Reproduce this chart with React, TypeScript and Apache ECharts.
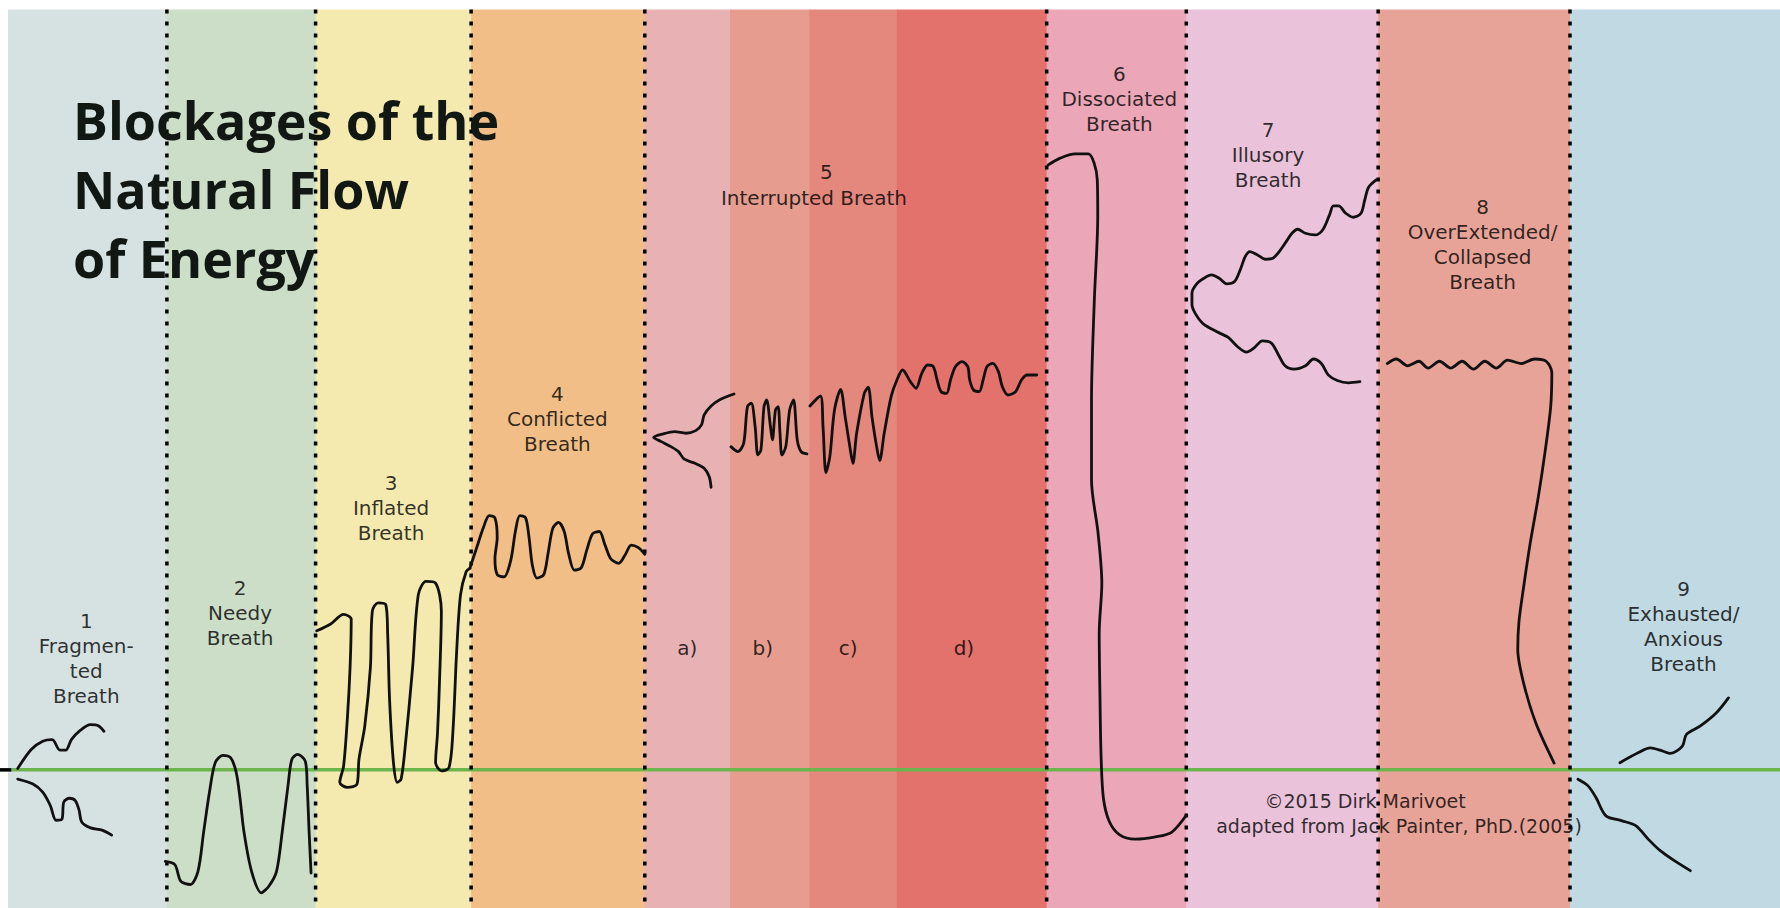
import React, { useEffect, useRef } from "react";
import * as echarts from "echarts";

// Units: x and y are measured on the reference picture (1 unit = 1.1352 px),
// y is height above the green baseline.
const X_MIN = 0;
const X_MAX = 1568;
const Y_MIN = -121.7;
const Y_MAX = 678.3;
const BAND_TOP = 670;
const BAND_BOTTOM = -122;

const BAND_EDGES = [7, 147, 278, 415, 568, 643, 713, 790, 922, 1045, 1214, 1383, 1568];
const BAND_COLORS = [
  "#D6E2E1", "#CCDEC8", "#F4EAB0", "#F1BE88", "#E8B2B5", "#E69D8F",
  "#E4877D", "#E3726C", "#EBA7B7", "#EAC2DA", "#E8A398", "#C1D9E3",
];
const SEPARATORS = [147, 278, 415, 568, 922, 1045, 1214, 1383];

const TITLE = "Blockages of the\nNatural Flow\nof Energy";

const FRAGMENTED_UP = [
  [15.6, 1.2], [27.5, 18], [37.6, 25.3], [46, 26.7], [52.8, 17.4], [57.9, 17.4],
  [62.9, 26.7], [69.7, 34], [79.8, 39.8], [86.6, 38.9], [91.6, 34],
];
const FRAGMENTED_DOWN = [
  [15.6, -8.1], [29.1, -12.5], [37.6, -19.7], [44.3, -31.4], [49.4, -44.4],
  [54.5, -43.5], [56.2, -28.4], [61.2, -25], [66.3, -27], [69.7, -35.7],
  [72, -45.9], [79.8, -51.1], [89.9, -53.1], [98.4, -57.5],
];
const NEEDY = [
  [145.6, -80.7], [154.1, -83.6], [159.2, -98.1], [167.6, -101], [174.4, -89.4],
  [179.4, -54.6], [184.5, -19.7], [189.6, 6.4], [196.3, 12.8], [203.1, 10.7],
  [208.1, -2.3], [211.5, -25.5], [214.9, -54.6], [221.6, -89.4], [230.1, -108.3],
  [236.8, -102.5], [243.6, -89.4], [248.6, -54.6], [253.7, -13.9], [257.1, 9.3],
  [262.2, 13.6], [268.9, 7.8], [270.6, -13.9], [272.3, -54.6], [274, -90.9],
];
const INFLATED = [
  [279, 122.5], [290.9, 128.3], [302.7, 137], [309.4, 132.7], [308.4, 90.6],
  [306.1, 47], [302.7, 3.5], [299.3, -11], [306.1, -15.4], [314.5, -12.5],
  [316.2, 9.3], [321.3, 38.3], [326.3, 90.6], [328, 139.9], [333.1, 147.2],
  [339.8, 145.7], [341.5, 119.6], [343.2, 61.5], [346.6, 6.4], [350, -11],
  [353.3, -8.1], [356.7, 18], [363.5, 90.6], [368.5, 154.4], [375.3, 166],
  [383.7, 164.6], [388.8, 139.9], [387.1, 76], [385.4, 32.5], [383.7, 6.4],
  [388.8, -0.9], [395.5, 2], [398.9, 32.5], [402.3, 105], [405.7, 154.4],
  [410.7, 174.8], [414.1, 177.7],
];
const CONFLICTED = [
  [414, 178], [420, 196], [426, 214], [431, 224], [436, 222], [438, 205],
  [436, 186], [438, 172], [444, 170], [450, 185], [454, 210], [458, 224],
  [463, 222], [466, 205], [469, 180], [473, 169], [479, 172], [483, 192],
  [487, 213], [492, 218], [497, 210], [501, 190], [506, 176], [512, 178],
  [517, 194], [522, 208], [528, 210], [533, 198], [538, 186], [545, 182],
  [551, 190], [556, 198], [562, 196], [568, 190],
];
const INTERRUPTED_A = [
  [646.6, 331.2], [634.8, 326.5], [626.4, 320.6], [620.3, 312.7], [617.9, 303.9],
  [612.9, 298.9], [604.4, 296.6], [594.3, 298], [584.2, 296], [575.8, 293],
  [582.5, 289.2], [591, 284.8], [597.7, 280.4], [602.8, 273.7], [612.2, 270.1],
  [620.3, 265.7], [624.7, 258.4], [626.4, 249],
];
const INTERRUPTED_B = [
  [643.9, 284.8], [650, 280.4], [655.1, 287.8], [658.4, 320], [661.8, 323],
  [665.2, 302.4], [667.6, 277.5], [670.3, 281.9], [673, 320], [675.3, 325.9],
  [678.7, 302.4], [680.4, 290.7], [683.1, 317.1], [685.4, 320], [687.1, 296.6],
  [688.8, 277.5], [692.2, 284.8], [695.6, 317.1], [699, 325.9], [702.3, 290.7],
  [705.7, 280.4], [710.8, 278.4],
];
const INTERRUPTED_CD = [
  [713.5, 320.6], [722.6, 329.4], [725, 302.4], [727.6, 261.9], [731, 276],
  [735.1, 317.1], [740.5, 335.3], [744.5, 311.2], [748.6, 284.8], [751.3, 270.1],
  [754.6, 296.6], [761.4, 331.8], [764.8, 337.1], [768.1, 311.2], [772.2, 284.8],
  [774.9, 272.5], [778.9, 296.6], [785, 328.9], [790.1, 343.5], [795.1, 352.3],
  [801.9, 342.1], [806.9, 336.2], [812, 349.4], [817.1, 356.7], [822.1, 355.3],
  [825.5, 343.5], [828.9, 333.3], [833.9, 331.8], [837.3, 343.5], [841.7, 355.3],
  [847.4, 359.7], [852.5, 355.3], [854.2, 343.5], [857.6, 334.7], [862.6, 333.3],
  [866, 343.5], [869.4, 355.3], [874.4, 358.2], [879.5, 350.9], [882.9, 337.7],
  [887.9, 330.3], [894.7, 333.3], [899.8, 343.5], [904.8, 347.9], [913.3, 347.9],
];
const DISSOCIATED = [
  [923.4, 533], [933.5, 538.8], [947, 542.7], [958.8, 542.7], [963.9, 534.4],
  [966.6, 519.8], [967, 487.5], [964, 414], [961.5, 325.9], [961.5, 255.5],
  [967.3, 208.5], [970.6, 164.4], [968.3, 120.4], [969, 61.7], [970, 10],
  [972, -25], [977, -45], [986, -57], [1000, -61], [1018, -59], [1032, -55],
  [1045, -40],
];
const ILLUSORY = [
  [1212.3, 519.8], [1205.6, 513.3], [1202.2, 502.1], [1198.9, 490.4], [1192.1, 486.9],
  [1185.4, 490.4], [1179.3, 496.9], [1174.6, 496.9], [1171.2, 489], [1165.1, 475.7],
  [1158.4, 471.3], [1149.9, 472.8], [1143.2, 476.3], [1138.1, 472.8], [1133, 465.4],
  [1128, 458.1], [1121.2, 450.8], [1114.5, 449.9], [1107.7, 453.7], [1101, 456.6],
  [1096.9, 452.2], [1092.5, 440.5], [1087.5, 430.2], [1080.7, 428.2], [1074, 433.1],
  [1067.2, 436.1], [1060.5, 433.1], [1054, 428], [1050, 420], [1050, 410],
  [1053, 402], [1060, 393], [1072, 386], [1082, 381], [1090, 373], [1098, 368],
  [1105, 372], [1112, 378], [1120, 376], [1126, 366], [1132, 356], [1140, 353],
  [1150, 356], [1157, 362], [1164, 358], [1170, 348], [1178, 343], [1188, 341],
  [1198, 342],
];
const COLLAPSED = [
  [1222, 358], [1230, 362], [1240, 356], [1250, 360], [1258, 354], [1268, 360],
  [1278, 354], [1288, 360], [1298, 353], [1308, 360], [1318, 354], [1328, 361],
  [1340, 358], [1352, 362], [1362, 360], [1367, 350], [1366, 320], [1361, 280],
  [1355, 240], [1348, 200], [1342, 160], [1338, 130], [1337, 106], [1342, 77],
  [1353, 41], [1369, 6],
];
const EXHAUSTED_UP = [
  [1427, 6.3], [1443, 15], [1453.7, 19.3], [1464.2, 16.7], [1471.4, 14.5],
  [1482, 21], [1485.6, 31.3], [1497.9, 38.7], [1512, 50.3], [1522.6, 63.4],
];
const EXHAUSTED_DOWN = [
  [1390, -8.3], [1398.9, -14.1], [1405.9, -24.4], [1414.7, -40.5], [1428.9, -44.9],
  [1441.2, -49.3], [1451.9, -61], [1462.5, -71.2], [1474.9, -80], [1489, -88.8],
];

const CURVES = [
  FRAGMENTED_UP, FRAGMENTED_DOWN, NEEDY, INFLATED, CONFLICTED, INTERRUPTED_A,
  INTERRUPTED_B, INTERRUPTED_CD, DISSOCIATED, ILLUSORY, COLLAPSED, EXHAUSTED_UP,
  EXHAUSTED_DOWN,
];

const LABEL_TEXTS = [
  "1\nFragmen-\nted\nBreath", "2\nNeedy\nBreath", "3\nInflated\nBreath",
  "4\nConflicted\nBreath", "5", "Interrupted Breath", "a)", "b)", "c)", "d)",
  "6\nDissociated\nBreath", "7\nIllusory\nBreath", "8\nOverExtended/\nCollapsed\nBreath",
  "9\nExhausted/\nAnxious\nBreath",
];
const LABEL_X = [76, 211.5, 344.5, 491, 728, 717, 605.5, 672, 747.2, 849.1, 986, 1117, 1306, 1483];
const LABEL_Y = [98, 138, 231, 309, 527, 504, 107.5, 107.5, 107.5, 107.5, 591, 542, 463, 126.5];

const CREDIT_TEXTS = ["©2015 Dirk Marivoet", "adapted from Jack Painter, PhD.(2005)"];
const CREDIT_X = [1202.5, 1232.4];
const CREDIT_Y = [-27.3, -49.3];

export default function App() {
  const ref = useRef<HTMLDivElement>(null);
  useEffect(() => {
    if (!ref.current) return;
    const chart = echarts.init(ref.current, undefined, { renderer: "svg" });
    const bandData = BAND_EDGES.slice(0, -1).map((e, i) => [e, BAND_EDGES[i + 1], i]);
    const series: any[] = [
      {
        type: "custom",
        silent: true,
        z: 0,
        encode: { x: [0, 1] },
        data: bandData,
        renderItem: (_p: any, api: any) => {
          const a = api.coord([api.value(0), BAND_TOP]);
          const b = api.coord([api.value(1), BAND_BOTTOM]);
          return {
            type: "rect",
            shape: { x: a[0], y: a[1], width: b[0] - a[0] + 0.6, height: b[1] - a[1] },
            style: { fill: BAND_COLORS[api.value(2)] },
          };
        },
      },
      {
        type: "line",
        silent: true,
        z: 2,
        symbol: "none",
        data: [[10, 0], [X_MAX, 0]],
        lineStyle: { color: "#6CB54C", width: 3.5 },
      },
      {
        type: "line",
        silent: true,
        z: 2,
        symbol: "none",
        data: [[0, 0], [10, 0]],
        lineStyle: { color: "#000", width: 3.5 },
      },
      {
        type: "custom",
        silent: true,
        z: 3,
        encode: { x: 0 },
        data: SEPARATORS.map((x) => [x]),
        renderItem: (_p: any, api: any) => {
          const a = api.coord([api.value(0), BAND_TOP]);
          const b = api.coord([api.value(0), BAND_BOTTOM]);
          return {
            type: "line",
            shape: { x1: a[0], y1: a[1], x2: b[0], y2: b[1] },
            style: { stroke: "#000", lineWidth: 3.5, lineDash: [4, 8] },
          };
        },
      },
      ...CURVES.map((c) => ({
        type: "line",
        silent: true,
        z: 5,
        symbol: "none",
        smooth: 0.3,
        data: c,
        lineStyle: { color: "#111", width: 2.8, cap: "round", join: "round" },
      })),
      {
        type: "scatter",
        silent: true,
        z: 10,
        symbolSize: 0,
        data: LABEL_TEXTS.map((t, i) => ({ value: [LABEL_X[i], LABEL_Y[i]], name: t })),
        label: {
          show: true,
          position: "inside",
          formatter: (p: any) => p.name,
          fontFamily: "DejaVu Sans",
          fontSize: 20,
          lineHeight: 25,
          color: "#000",
          align: "center",
        },
      },
      {
        type: "scatter",
        silent: true,
        z: 10,
        symbolSize: 0,
        data: CREDIT_TEXTS.map((t, i) => ({ value: [CREDIT_X[i], CREDIT_Y[i]], name: t })),
        label: {
          show: true,
          position: "inside",
          formatter: (p: any) => p.name,
          fontFamily: "DejaVu Sans",
          fontSize: 19,
          color: "#000",
          align: "center",
        },
      },
    ];
    chart.setOption({
      animation: false,
      title: {
        text: TITLE,
        left: 73,
        top: 85,
        padding: 0,
        textStyle: {
          fontFamily: "Open Sans",
          fontWeight: "bold",
          fontSize: 52,
          lineHeight: 69,
          color: "#111713",
        },
      },
      grid: { left: 0, right: 0, top: 0, bottom: 0 },
      xAxis: { type: "value", min: X_MIN, max: X_MAX, show: false },
      yAxis: { type: "value", min: Y_MIN, max: Y_MAX, show: false },
      series,
    });
    return () => chart.dispose();
  }, []);
  return (
    <div
      ref={ref}
      style={{ position: "fixed", left: 0, top: 0, width: 1780, height: 908, background: "#fff" }}
    />
  );
}
